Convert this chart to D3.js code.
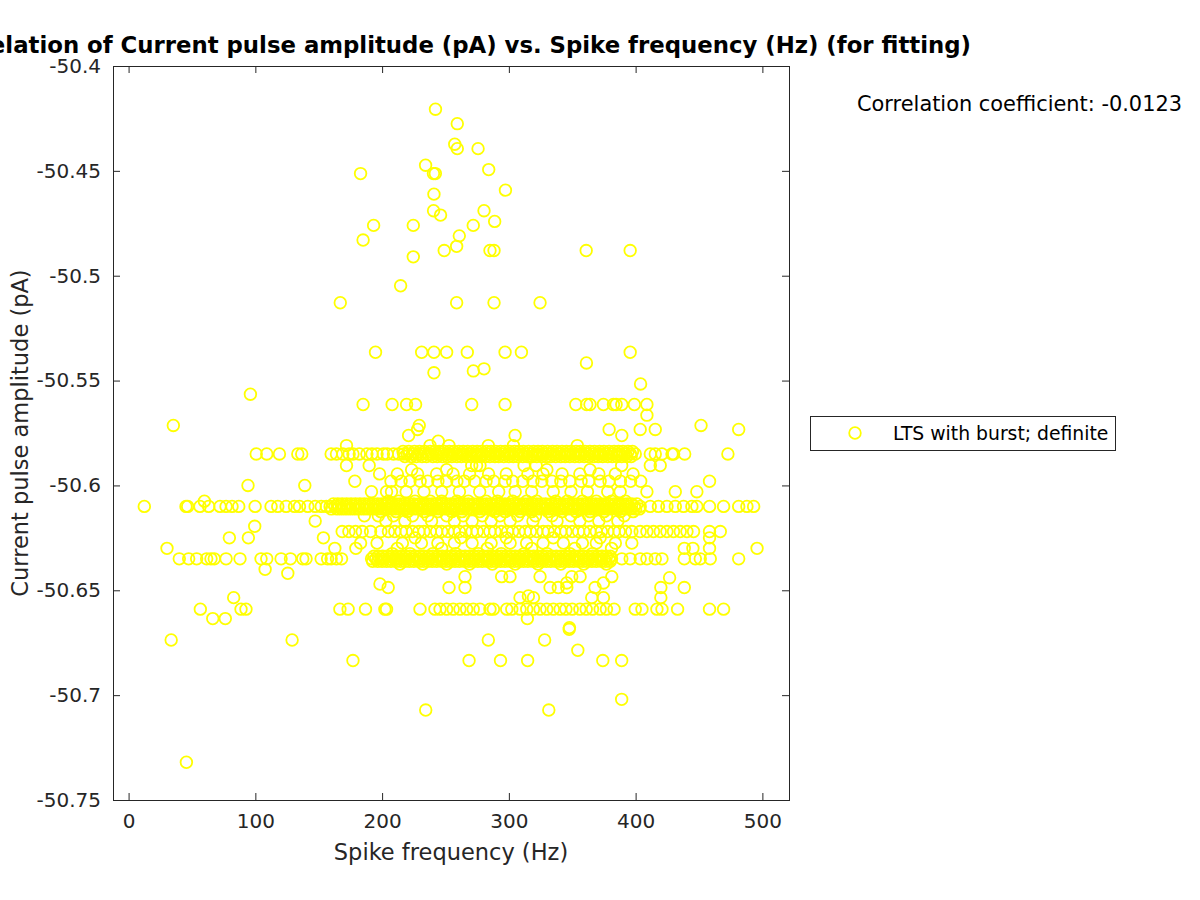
<!DOCTYPE html>
<html>
<head>
<meta charset="utf-8">
<script src="https://cdn.jsdelivr.net/npm/d3@7"></script>
<style>
  body { margin: 0; background: #fff; }
  svg { display: block; font-family: "DejaVu Sans", sans-serif; }
</style>
</head>
<body>
<svg id="chart" width="1200" height="900"></svg>
<script>
// spike frequency (Hz) values (pA)
const freq585 = [100.7, 109, 119, 133.5, 136.6, 159.8, 164, 169, 174, 177, 182, 188, 192, 196, 201, 204, 209, 213, 217, 220, 224, 228, 231, 236, 239, 243, 246, 251, 254, 258, 262, 265, 269, 273, 276, 280, 284, 288, 291, 295, 299, 302, 306, 310, 313, 318, 321, 325, 328, 333, 336, 340, 344, 347, 351, 355, 358, 362, 366, 370, 373, 377, 381, 385, 388, 392, 396, 399.7, 411.6, 415.5, 420.8, 428.7, 430, 438.7, 472.8];
// the solid part of that row, slightly above and below it
const freq5838 = [216.5, 221, 225.5, 229.5, 233.5, 238, 241.5, 245, 249, 253, 256.5, 260.5, 264, 267.5, 271.5, 275, 278.5, 282.5, 286, 289.5, 293.5, 297, 300.5, 304.5, 308, 311.5, 315.5, 319.5, 323, 326.5, 330.5, 334.5, 338, 342, 345.5, 349, 353, 356.5, 360, 364, 367.5, 371.5, 375, 379, 383, 386.5, 390, 394, 397.5];
const freq5862 = [218, 223, 227, 231.5, 235, 240, 243.5, 247.5, 251.5, 255, 259, 262.5, 266.5, 270, 274, 277.5, 281.5, 285, 289, 292, 296, 300, 303.5, 307, 311, 314.5, 318.5, 322, 326, 329.5, 333, 337, 341, 344.5, 348, 352, 355.5, 359.5, 363, 367, 370.5, 374, 378, 381.5, 385.5, 389, 393, 396.5];
const freq5905 = [171.9, 189.8, 270.7, 274.5, 277.2, 312, 321.5, 389, 411.6, 419.4];
const freq5925 = [223.3, 250.9, 330, 364];
const freq5945 = [198, 212, 228, 243, 256, 269, 284, 298, 315, 327, 342, 356, 371, 384, 398];
const freq598 = [178.5, 207, 215, 222, 230, 236, 244, 251, 259, 265, 273, 282, 288, 297, 303, 311, 319, 326, 334, 341, 348, 357, 363, 372, 379, 388, 396, 404, 458.3];
const freq603 = [191.6, 203.5, 207.4, 219, 233, 247, 261, 277, 292, 305, 318, 335, 349, 362, 378, 387.8, 408.9, 431.3, 448.3];
const freq6075 = [59.8, 205, 213, 226, 238, 247, 259, 268, 282, 291, 303, 314, 322, 337, 346, 358, 369, 381, 392];
const freq6088 = [161.5, 165, 168.5, 172, 175.5, 179, 182.5, 186, 189.5, 193, 196.5, 200, 203.5, 207.5, 211, 214.5, 218, 221.5, 225, 229, 232.5, 236, 239.5, 243, 247, 250.5, 254, 257.5, 261, 264.5, 268, 272, 275.5, 279, 282.5, 286, 290, 293.5, 297, 300.5, 304, 308, 311.5, 315, 318.5, 322, 325.5, 329, 333, 336.5, 340, 343.5, 347, 351, 354.5, 358, 361.5, 365, 368.5, 372, 375.5, 379, 383, 386.5, 390, 393.5, 397, 401];
const freq610 = [12.4, 45.3, 46.6, 56.3, 63.2, 72.1, 76.9, 81.6, 86.9, 99.8, 112.4, 117.7, 124.3, 130.9, 134.8, 141.4, 147.2, 152, 156, 159, 163, 166, 170, 173, 177, 181, 184, 188, 191, 195, 198, 202, 206, 209, 213, 216, 220, 223, 227, 231, 234, 238, 241, 245, 249, 252, 256, 259, 263, 266, 270, 274, 277, 281, 284, 288, 292, 295, 299, 302, 306, 310, 313, 317, 320, 324, 327, 331, 335, 338, 342, 345, 349, 352, 356, 360, 363, 367, 370, 374, 377, 381, 385, 388, 392, 395, 399, 403.6, 411.5, 418, 424.7, 431.3, 437.8, 444.4, 448.3, 458.3, 469.4, 481.3, 487.8, 493.1];
const freq6112 = [160, 164.5, 168, 171.5, 175, 178.5, 182, 185.5, 189, 192.5, 196, 199.5, 203, 207, 210.5, 214, 217.5, 221, 224.5, 228, 232, 235.5, 239, 242.5, 246, 250, 253.5, 257, 260.5, 264, 267.5, 271, 275, 278.5, 282, 285.5, 289, 293, 296.5, 300, 303.5, 307, 311, 314.5, 318, 321.5, 325, 328.5, 332, 336, 339.5, 343, 346.5, 350, 354, 357.5, 361, 364.5, 368, 371.5, 375, 378.5, 382, 385.5, 389, 392.5, 396, 400, 403];
const freq6125 = [199, 211, 220, 233, 244, 255, 263, 277, 289, 297, 309, 318, 331, 342, 353, 364, 375, 388, 398];
const freq6145 = [186, 197, 209, 224, 236, 251, 264, 279, 293, 307, 321, 334, 349, 363, 377, 391];
const freq617 = [147.2, 203, 218, 239, 257, 271, 286, 301, 319, 338, 356, 371, 386];
const freq622 = [168.5, 173.8, 179, 184.3, 190.9, 199, 205, 210, 215, 219, 224, 229, 233, 238, 243, 247, 252, 257, 261, 266, 271, 275, 280, 285, 289, 294, 299, 303, 308, 313, 317, 322, 327, 331, 336, 341, 345, 350, 355, 359, 364, 369, 373, 378, 383, 387, 392, 397, 403.6, 408.9, 414.1, 419.4, 424.7, 429.9, 435.2, 440.5, 445.7, 458.3, 466.8];
const freq625 = [79.5, 94.5, 153.7, 226, 262, 298, 335, 372, 458.3];
const freq6275 = [183, 196, 216, 231, 244, 257, 271, 286, 301, 314, 327, 343, 358, 369, 384, 397];
const freq630 = [30.3, 162.7, 179.3, 212, 247, 283, 318, 352, 381, 438.4, 445.2, 458.3, 495.8];
const freq6325 = [208, 222, 240, 258, 276, 294, 312, 330, 348, 366];
const freq6338 = [193.5, 197, 200.5, 204, 208, 211.5, 215, 218.5, 222, 226, 229.5, 233, 236.5, 240, 244, 247.5, 251, 254.5, 258, 262, 265.5, 269, 272.5, 276, 280, 283.5, 287, 290.5, 294, 298, 301.5, 305, 308.5, 312, 316, 319.5, 323, 326.5, 330, 334, 337.5, 341, 344.5, 348, 352, 355.5, 359, 362.5, 366, 370, 373.5, 377, 380];
const freq635 = [40, 47.4, 53.7, 61.6, 65, 67.6, 76.9, 87.9, 104.5, 109, 120.3, 127.7, 137.4, 140, 151.9, 157, 159.8, 164, 168, 191.7, 195, 199, 202, 206, 210, 213, 217, 220, 224, 228, 231, 235, 238, 242, 246, 249, 253, 256, 260, 264, 267, 271, 274, 278, 282, 285, 289, 292, 296, 300, 303, 307, 310, 314, 318, 321, 325, 328, 332, 336, 339, 343, 346, 350, 354, 357, 361, 364, 368, 372, 375, 379, 381, 389.1, 395.7, 403.6, 408.9, 415.5, 420.8, 438.4, 447.1, 451, 458.9, 481.3];
const freq6362 = [192.5, 196.5, 200, 203.5, 207, 211, 214.5, 218, 221.5, 225, 229, 232.5, 236, 239.5, 243, 247, 250.5, 254, 257.5, 261, 265, 268.5, 272, 275.5, 279, 283, 286.5, 290, 293.5, 297, 301, 304.5, 308, 311.5, 315, 319, 322.5, 326, 329.5, 333, 337, 340.5, 344, 347.5, 351, 355, 358.5, 362, 365.5, 369, 373, 376.5, 380];
const freq6375 = [214, 232, 251, 269, 287, 305, 323, 341, 359, 377];
const freq659 = [56.6, 88.7, 92.6, 166.7, 173.2, 186.9, 202.2, 203.5, 229.9, 241.7, 245.7, 250.9, 256.1, 261.4, 266.7, 271.9, 277.2, 285.1, 287.8, 298.3, 302.3, 308.8, 314.1, 319.4, 324.6, 329.9, 335.1, 340.4, 345, 350, 356, 361, 366, 372, 377, 383, 399.7, 405, 416.8, 420.8, 433.1, 458.3, 469.4];

// the rows above with their amplitude
const rowAmps = [-50.585, -50.5838, -50.5862, -50.5905, -50.5925, -50.5945, -50.598, -50.603, -50.6075, -50.6088, -50.61, -50.6112, -50.6125, -50.6145, -50.617, -50.622, -50.625, -50.6275, -50.63, -50.6325, -50.6338, -50.635, -50.6362, -50.6375, -50.659];
const rowFreqs = [freq585, freq5838, freq5862, freq5905, freq5925, freq5945, freq598, freq603, freq6075, freq6088, freq610, freq6112, freq6125, freq6145, freq617, freq622, freq625, freq6275, freq630, freq6325, freq6338, freq635, freq6362, freq6375, freq659];

// isolated points [frequency, amplitude]
const loosePoints = [
  [242.1, -50.4206], [259.3, -50.4275], [257.3, -50.4373], [259.3, -50.4394], [275.7, -50.4394],
  [234.3, -50.4473], [284.1, -50.4494], [240.5, -50.4513], [242, -50.4513], [183, -50.4513],
  [297.3, -50.4592], [240.9, -50.4611], [280.4, -50.469], [240.6, -50.469], [246.1, -50.4711],
  [288.8, -50.4741], [271.9, -50.476], [193.3, -50.476], [224.6, -50.476], [260.9, -50.481],
  [185, -50.483], [258.8, -50.486], [285.1, -50.488], [288.3, -50.488], [361, -50.488],
  [395.7, -50.488], [249, -50.488], [224.6, -50.491], [214.6, -50.5048],
  [167, -50.5129], [258.8, -50.5129], [288.3, -50.5129], [324.6, -50.5129],
  [194.8, -50.5365], [231.2, -50.5365], [240.9, -50.5365], [250.9, -50.5365], [267.2, -50.5365],
  [297, -50.5365], [309.9, -50.5365], [395.7, -50.5365],
  [361.2, -50.5416], [280.4, -50.5444], [272, -50.5454], [240.9, -50.5463], [403.9, -50.5516], [96.1, -50.5565],
  [185, -50.5614], [207.9, -50.5614], [219.3, -50.5614], [226.4, -50.5614], [270.7, -50.5614], [297, -50.5614],
  [352.8, -50.5614], [361.4, -50.5614], [364, -50.5614], [374.6, -50.5614], [382.5, -50.5614], [384.6, -50.5614],
  [389.1, -50.5614], [399, -50.5614], [408.9, -50.5614], [408.9, -50.5665],
  [35.3, -50.5714], [229.3, -50.5714], [451.6, -50.5714], [228, -50.5733], [379.1, -50.5733], [403.6, -50.5733],
  [415.5, -50.5733], [481.3, -50.5733], [220.9, -50.5762], [304.9, -50.5762], [389.1, -50.5762], [244.3, -50.5789],
  [171.9, -50.581], [237.8, -50.581], [252.8, -50.581], [283.8, -50.581], [303.6, -50.581], [354, -50.581],
  [94.2, -50.6], [139, -50.6], [99.5, -50.6195],
  [107.7, -50.64], [125.6, -50.6419], [265.4, -50.6435], [294.3, -50.6435], [300.9, -50.6435], [324.6, -50.6435],
  [349.6, -50.6435], [356.2, -50.6435], [381.2, -50.6435], [426.8, -50.644], [345.7, -50.6465], [374.6, -50.6465],
  [198.3, -50.647], [204.8, -50.6487], [252.8, -50.6487], [265.4, -50.6487], [332.5, -50.6487], [339, -50.6487],
  [345.7, -50.6487], [368, -50.6487], [419.9, -50.6487], [438.4, -50.6487],
  [82.9, -50.6535], [308.8, -50.6535], [315.4, -50.6527], [319.4, -50.6535], [365.4, -50.6535], [374.6, -50.6535], [419.9, -50.6535],
  [66.4, -50.6635], [76.3, -50.6635], [314.6, -50.6635], [347.8, -50.6678], [347.6, -50.6686],
  [33.6, -50.6737], [129, -50.6737], [283.8, -50.6737], [328.2, -50.6737], [354.4, -50.6786],
  [177, -50.6835], [268.6, -50.6835], [293.4, -50.6835], [314.8, -50.6835], [374.1, -50.6835], [389, -50.6835],
  [389, -50.702], [234.4, -50.7071], [331.5, -50.7071], [45.6, -50.732]
];

const xTicks = [0, 100, 200, 300, 400, 500];
const yTicks = [-50.75, -50.7, -50.65, -50.6, -50.55, -50.5, -50.45, -50.4];

const titleText = "Correlation of Current pulse amplitude (pA) vs. Spike frequency (Hz) (for fitting)";
const corrText = "Correlation coefficient: -0.0123";
const legendLabel = "LTS with burst; definite";

const svg = d3.select("#chart");
const axisColor = "#262626";
const markColor = "#ffff00";

const plot = { left: 113, right: 789, top: 66, bottom: 800 };
const x = d3.scaleLinear().domain([-12.3, 521]).range([plot.left, plot.right]);
const y = d3.scaleLinear().domain([-50.75, -50.4]).range([plot.bottom, plot.top]);

const points = rowAmps.flatMap((amp, i) => rowFreqs[i].map(f => [f, amp])).concat(loosePoints);

// markers
svg.append("g")
  .selectAll("circle")
  .data(points)
  .join("circle")
  .attr("cx", d => x(d[0]))
  .attr("cy", d => y(d[1]))
  .attr("r", 5.8)
  .attr("fill", "none")
  .attr("stroke", markColor)
  .attr("stroke-width", 1.8);

// axes, ticks pointing inward like matlab
function styleAxis(g) {
  g.select(".domain").remove();
  g.selectAll("line").attr("stroke", axisColor);
  g.selectAll("text").attr("fill", axisColor).attr("font-size", 20).attr("font-family", "DejaVu Sans");
}

// plain hyphen for negatives, as in the original
const yFormat = d => String(+d.toFixed(2));

svg.append("g")
  .attr("transform", `translate(0,${plot.bottom})`)
  .call(d3.axisBottom(x).tickValues(xTicks).tickSize(-7).tickPadding(14))
  .call(styleAxis);

svg.append("g")
  .attr("transform", `translate(0,${plot.top})`)
  .call(d3.axisTop(x).tickValues(xTicks).tickSize(-7).tickFormat(""))
  .call(styleAxis);

svg.append("g")
  .attr("transform", `translate(${plot.left},0)`)
  .call(d3.axisLeft(y).tickValues(yTicks).tickSize(-7).tickPadding(12).tickFormat(yFormat))
  .call(styleAxis);

svg.append("g")
  .attr("transform", `translate(${plot.right},0)`)
  .call(d3.axisRight(y).tickValues(yTicks).tickSize(-7).tickFormat(""))
  .call(styleAxis);

svg.append("rect")
  .attr("x", plot.left + 0.5)
  .attr("y", plot.top + 0.5)
  .attr("width", plot.right - plot.left)
  .attr("height", plot.bottom - plot.top)
  .attr("fill", "none")
  .attr("stroke", axisColor)
  .attr("stroke-width", 1);

// labels
const midX = (plot.left + plot.right) / 2;
const midY = (plot.top + plot.bottom) / 2;

svg.append("text")
  .attr("x", midX + 2)
  .attr("y", 53)
  .attr("text-anchor", "middle")
  .attr("font-size", 22.8)
  .attr("font-weight", "bold")
  .attr("fill", "#000")
  .text(titleText);

svg.append("text")
  .attr("x", midX)
  .attr("y", 860)
  .attr("text-anchor", "middle")
  .attr("font-size", 22.5)
  .attr("fill", axisColor)
  .text("Spike frequency (Hz)");

svg.append("text")
  .attr("transform", `translate(28,${midY}) rotate(-90)`)
  .attr("text-anchor", "middle")
  .attr("font-size", 22.5)
  .attr("fill", axisColor)
  .text("Current pulse amplitude (pA)");

svg.append("text")
  .attr("x", 857)
  .attr("y", 111)
  .attr("font-size", 20.9)
  .attr("fill", "#000")
  .text(corrText);

// legend
const legend = svg.append("g");
legend.append("rect")
  .attr("x", 810.5).attr("y", 416.5)
  .attr("width", 305).attr("height", 34)
  .attr("fill", "#fff")
  .attr("stroke", axisColor);
legend.append("circle")
  .attr("cx", 855).attr("cy", 433)
  .attr("r", 5.8)
  .attr("fill", "none")
  .attr("stroke", markColor)
  .attr("stroke-width", 1.8);
legend.append("text")
  .attr("x", 893).attr("y", 440)
  .attr("font-size", 18.8)
  .attr("fill", "#000")
  .text(legendLabel);
</script>
</body>
</html>
